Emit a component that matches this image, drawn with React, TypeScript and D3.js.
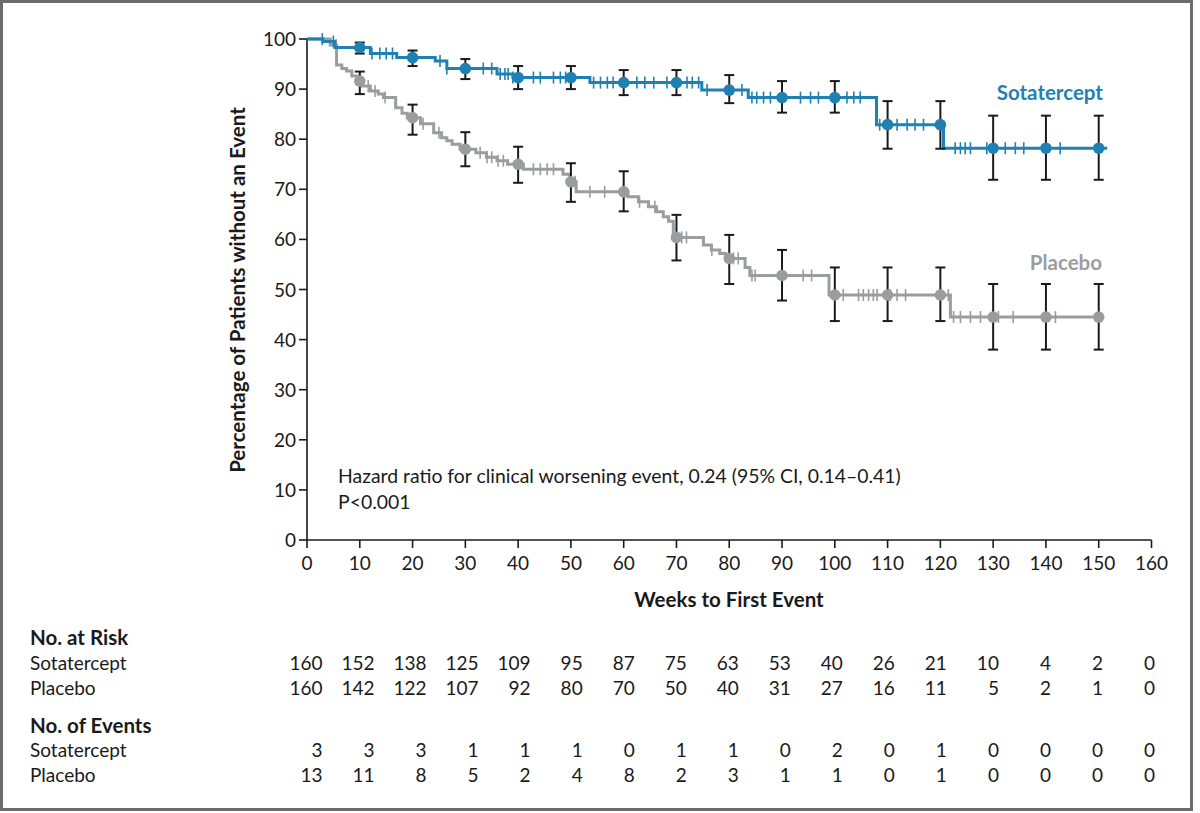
import * as d3 from "d3";

// ---- data ----
const weekTicks = d3.range(0, 170, 10);
const pctTicks = d3.range(0, 110, 10);

// Kaplan-Meier steps: [week, % without event after the step]
const sotaSteps: [number, number][] = [
  [0, 100], [3, 99.5], [5.3, 98.3], [12, 97.1], [17, 96.3], [24.3, 95.6],
  [26.5, 94.1], [36, 93.0], [39, 92.3], [53.6, 91.3], [74.8, 89.8],
  [83.6, 88.3], [107.9, 82.9], [120.6, 78.2],
];
const sotaEnd = 151.6;

const placeboSteps: [number, number][] = [
  [0, 100], [4.4, 98.8], [5.6, 94.8], [6.6, 94.1], [7.5, 93.6], [8.5, 92.6],
  [9.5, 91.6], [10.5, 90.6], [12, 89.6], [13.5, 89.0], [14.5, 88.3],
  [16.8, 86.3], [18, 85.2], [19, 84.3], [21.5, 83.1], [24, 81.3],
  [25.5, 80.3], [26.5, 79.7], [27.5, 79.0], [29, 78.0], [32, 77.3],
  [34, 76.4], [36, 75.7], [38, 75.0], [41, 74.0], [48.5, 73.0],
  [49.8, 71.5], [51, 69.5], [60.8, 68.5], [62.8, 67.5], [64.7, 66.5],
  [66.2, 65.5], [67.5, 64.5], [68.5, 63.6], [69.4, 60.4], [75.1, 58.9],
  [76.6, 57.9], [78.2, 57.2], [79.3, 56.2], [83, 54.4], [83.9, 52.8],
  [98.9, 48.9], [121.9, 44.5],
];
const placeboEnd = 150.3;

// censored observations (weeks)
const sotaCensor = [
  2.9, 5, 12.3, 13.8, 15, 16.2, 25.2, 26.5, 33.4, 35, 36.6, 37.5, 38.1, 39,
  42.9, 44.2, 46.7, 48, 49, 54.3, 55.6, 56.9, 58, 62.5, 64, 65.7, 68.2, 72,
  73, 74.2, 75.8, 82.4, 84.3, 85.2, 86.5, 87.8, 93.5, 95.4, 96.9, 102.3,
  103.6, 104.8, 108.5, 111.8, 113.7, 115.2, 116.8, 122.8, 123.8, 124.7,
  125.7, 128.8, 132.3, 134.2, 135.8, 142.7,
];
const placeboCensor = [
  5.5, 11.6, 12.9, 14.8, 22, 25, 32.8, 34.1, 35, 36.2, 37.2, 42.9, 44.2,
  45.5, 46.7, 50.8, 53.6, 56.4, 63, 65.9, 71, 71.9, 76.7, 80.8, 81.7, 84.3,
  84.9, 94, 95.6, 101.6, 104.5, 105.4, 106.4, 107.3, 108, 110.5, 111.8,
  113.4, 121.5, 122.5, 123.8, 125.7, 127.6, 131, 133.8, 141.8,
];

// 95% CI at the marked weeks
const markWeeks = d3.range(10, 160, 10);
const sotaUpper = [99.3, 97.7, 96.0, 94.6, 94.6, 93.8, 93.8, 92.8, 91.6, 91.6, 87.6, 87.6, 84.7, 84.7, 84.7];
const sotaLower = [97.1, 94.6, 92.0, 90.0, 90.0, 88.8, 88.8, 87.2, 85.3, 85.3, 78.1, 78.1, 71.9, 71.9, 71.9];
const placeboUpper = [93.5, 86.9, 81.4, 78.5, 75.2, 73.6, 64.9, 60.9, 57.9, 54.4, 54.4, 54.4, 51.1, 51.1, 51.1];
const placeboLower = [89.0, 80.9, 74.6, 71.3, 67.5, 65.6, 55.8, 51.1, 47.8, 43.7, 43.7, 43.7, 38.0, 38.0, 38.0];

// tables
const riskSota = [160, 152, 138, 125, 109, 95, 87, 75, 63, 53, 40, 26, 21, 10, 4, 2, 0];
const riskPlacebo = [160, 142, 122, 107, 92, 80, 70, 50, 40, 31, 27, 16, 11, 5, 2, 1, 0];
const eventsSota = [3, 3, 3, 1, 1, 1, 0, 1, 1, 0, 2, 0, 1, 0, 0, 0, 0];
const eventsPlacebo = [13, 11, 8, 5, 2, 4, 8, 2, 3, 1, 1, 0, 1, 0, 0, 0, 0];

const BLUE = "#1f80b3";
const GRAY = "#9b9ca0";
const INK = "#1a1a1a";
const FONT = "Lato, 'Open Sans', sans-serif";

const survAt = (steps: [number, number][], t: number) => {
  let v = steps[0][1];
  for (const [w, s] of steps) if (w <= t) v = s;
  return v;
};

const x = d3.scaleLinear().domain([0, 160]).range([307, 1151.5]);
const y = d3.scaleLinear().domain([0, 100]).range([540, 39]);
const col = d3.scaleLinear().domain([0, 160]).range([322.5, 1155]);

const stepLine = d3
  .line<[number, number]>()
  .x((d) => x(d[0]))
  .y((d) => y(d[1]))
  .curve(d3.curveStepAfter);

function Curve({ steps, end, censor, upper, lower, color }: {
  steps: [number, number][]; end: number; censor: number[];
  upper: number[]; lower: number[]; color: string;
}) {
  const pts: [number, number][] = [...steps, [end, steps[steps.length - 1][1]]];
  return (
    <g>
      <path d={stepLine(pts) || ""} fill="none" stroke={color} strokeWidth={3} />
      {censor.map((w, i) => (
        <line key={i} x1={x(w)} x2={x(w)} y1={y(survAt(steps, w)) - 6}
          y2={y(survAt(steps, w)) + 6} stroke={color} strokeWidth={1.6} />
      ))}
      {markWeeks.map((w, i) => (
        <g key={w} stroke={INK} strokeWidth={2}>
          <line x1={x(w)} x2={x(w)} y1={y(upper[i])} y2={y(lower[i])} />
          <line x1={x(w) - 5} x2={x(w) + 5} y1={y(upper[i])} y2={y(upper[i])} />
          <line x1={x(w) - 5} x2={x(w) + 5} y1={y(lower[i])} y2={y(lower[i])} />
        </g>
      ))}
      {markWeeks.map((w) => (
        <circle key={w} cx={x(w)} cy={y(survAt(steps, w))} r={5.8} fill={color} />
      ))}
    </g>
  );
}

function TableRow({ label, values, yPos }: { label: string; values: number[]; yPos: number }) {
  return (
    <g fontSize={19} fill={INK}>
      <text x={30} y={yPos}>{label}</text>
      {values.map((v, i) => (
        <text key={i} x={col(weekTicks[i])} y={yPos} textAnchor="end">{v}</text>
      ))}
    </g>
  );
}

export default function App() {
  return (
    <svg width={1200} height={813} style={{ position: "absolute", left: 0, top: 0, background: "#fff" }}
      fontFamily={FONT}>
      <rect x={1.5} y={1.5} width={1190} height={808} fill="#fff" stroke="#6b6b6b" strokeWidth={3} />

      {/* axes */}
      <g stroke={INK} strokeWidth={1.6}>
        <line x1={x(0)} x2={x(0)} y1={y(100)} y2={y(0)} />
        <line x1={x(0)} x2={x(160)} y1={y(0)} y2={y(0)} />
        {pctTicks.map((t) => (
          <line key={t} x1={x(0) - 8} x2={x(0)} y1={y(t)} y2={y(t)} />
        ))}
        {weekTicks.map((t) => (
          <line key={t} x1={x(t)} x2={x(t)} y1={y(0)} y2={y(0) + 8} />
        ))}
      </g>
      <g fontSize={19} fill={INK}>
        {pctTicks.map((t) => (
          <text key={t} x={x(0) - 11} y={y(t) + 7} textAnchor="end">{t}</text>
        ))}
        {weekTicks.map((t) => (
          <text key={t} x={x(t)} y={y(0) + 30} textAnchor="middle">{t}</text>
        ))}
      </g>
      <text x={729} y={607} textAnchor="middle" fontSize={20.5} fontWeight="bold" fill={INK}>
        Weeks to First Event
      </text>
      <text transform={`translate(245,290) rotate(-90)`} textAnchor="middle" fontSize={20.5}
        fontWeight="bold" fill={INK}>
        Percentage of Patients without an Event
      </text>

      <Curve steps={placeboSteps} end={placeboEnd} censor={placeboCensor}
        upper={placeboUpper} lower={placeboLower} color={GRAY} />
      <Curve steps={sotaSteps} end={sotaEnd} censor={sotaCensor}
        upper={sotaUpper} lower={sotaLower} color={BLUE} />

      <text x={1103} y={100} textAnchor="end" fontSize={20.5} fontWeight="bold" fill={BLUE}>Sotatercept</text>
      <text x={1102} y={270} textAnchor="end" fontSize={20.5} fontWeight="bold" fill={GRAY}>Placebo</text>

      <g fontSize={19.4} fill={INK}>
        <text x={338} y={483}>Hazard ratio for clinical worsening event, 0.24 (95% CI, 0.14–0.41)</text>
        <text x={338} y={509}>P&lt;0.001</text>
      </g>

      {/* tables */}
      <text x={30} y={645} fontSize={20.5} fontWeight="bold" fill={INK}>No. at Risk</text>
      <TableRow label="Sotatercept" values={riskSota} yPos={670} />
      <TableRow label="Placebo" values={riskPlacebo} yPos={695} />
      <text x={30} y={733} fontSize={20.5} fontWeight="bold" fill={INK}>No. of Events</text>
      <TableRow label="Sotatercept" values={eventsSota} yPos={757} />
      <TableRow label="Placebo" values={eventsPlacebo} yPos={782} />
    </svg>
  );
}
